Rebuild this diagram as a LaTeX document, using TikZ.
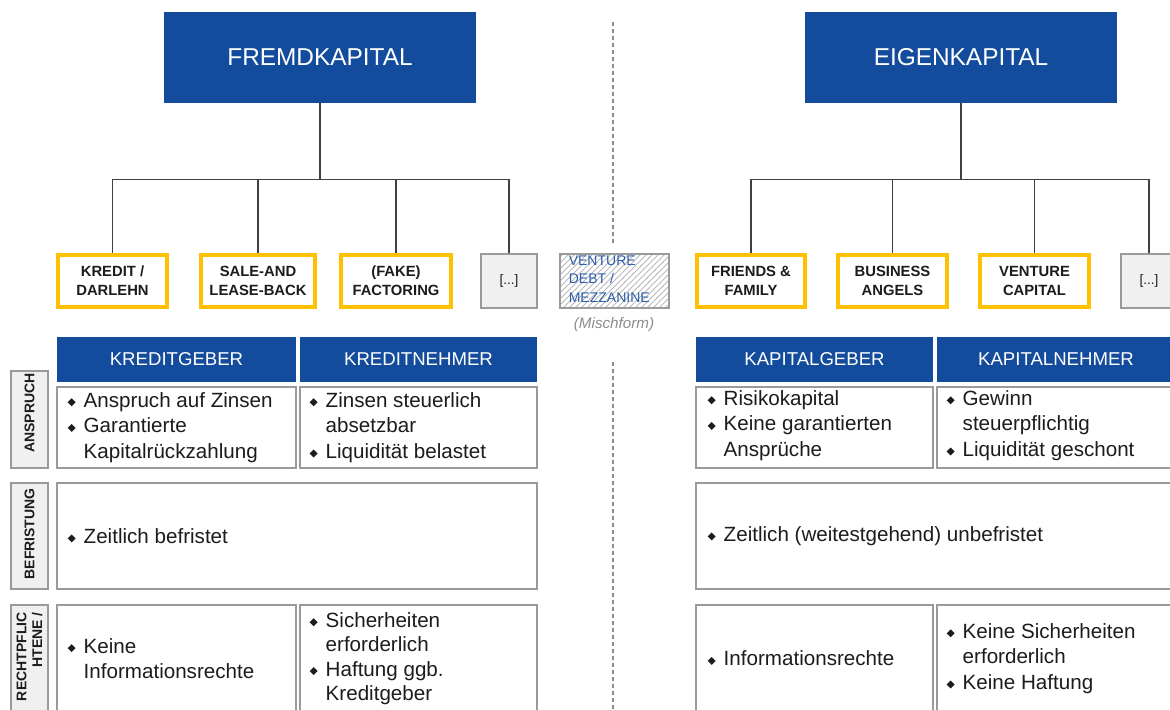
\documentclass[tikz,border=0pt]{standalone}
\usepackage{fontspec}
\setmainfont{Liberation Sans}
\usetikzlibrary{positioning,patterns}
\definecolor{navy}{HTML}{134C9C}
\definecolor{amber}{HTML}{FFC000}
\definecolor{frame}{HTML}{9A9A9A}
\definecolor{paleg}{HTML}{F0F0F0}
\definecolor{ink}{HTML}{1C1C1C}
\definecolor{hatchblue}{HTML}{2E5EAA}
\definecolor{mute}{HTML}{8C8C8C}
\definecolor{treeline}{HTML}{404040}
\newcommand{\bul}{\makebox[8pt][l]{\raisebox{0.5pt}{\rotatebox{45}{\rule{2.8pt}{2.8pt}}}}}
\newcommand{\bulgap}{\hspace*{8pt}}

\begin{document}
\begin{tikzpicture}[x=0.5pt, y=-0.5pt,
  capbox/.style={fill=navy, text=white, font=\fontsize{12.2}{14}\selectfont, minimum width=156pt, minimum height=45.5pt, inner sep=0pt},
  kind/.style={draw=amber, line width=2pt, fill=white, text=ink, font=\fontsize{7.4}{9.5}\selectfont\bfseries, align=center, minimum width=54.5pt, minimum height=26pt, inner sep=0pt},
  more/.style={draw=frame, fill=paleg, line width=0.6pt, minimum width=28pt, minimum height=27pt, font=\fontsize{6.8}{8}\selectfont, text=ink, inner sep=0pt},
  mixbox/.style={draw=frame, line width=0.6pt, pattern=north east lines, pattern color=gray!55, minimum width=54.5pt, minimum height=27pt, inner sep=0pt},
  mixtxt/.style={anchor=west, align=left, inner sep=0pt, text=hatchblue, font=\fontsize{7}{9.2}\selectfont},
  colhead/.style={fill=navy, text=white, font=\fontsize{9.3}{11}\selectfont, minimum height=22.5pt, inner sep=0pt},
  cell/.style={draw=frame, line width=0.7pt, fill=white, inner sep=0pt},
  celltxt/.style={anchor=west, align=left, inner sep=0pt, text=ink, font=\fontsize{10.3}{12.8}\selectfont},
  sidebox/.style={draw=frame, fill=paleg, line width=0.7pt, minimum width=18.5pt, inner sep=0pt},
  sidetxt/.style={rotate=90, anchor=east, align=right, inner sep=0pt, text=ink, font=\fontsize{7}{7.8}\selectfont\bfseries},
  tree/.style={draw=treeline, line width=0.75pt},
  divider/.style={draw=mute, line width=0.6pt, dash pattern=on 2pt off 1.5pt}]
\useasboundingbox (0,0) rectangle (1170,709);

% Divider between the two sides
\draw[divider] (613,22) -- (613,245);
\draw[divider] (613,362) -- (613,712);

% Capital types
\node[capbox] (fk) at (320,57.5) {FREMDKAPITAL};
\node[capbox] (ek) at (961,57.5) {EIGENKAPITAL};

% Instruments (debt side)
\node[kind] (kredit) at (112.5,281) {KREDIT /\\DARLEHN};
\node[kind, minimum width=57pt] (sale) at (258,281) {SALE-AND\\LEASE-BACK};
\node[kind, minimum width=55pt] (fake) at (396,281) {(FAKE)\\FACTORING};
\node[more] (fkmore) at (509,281) {[...]};

% Hybrid
\node[mixbox] (vdebt) at (614.5,281) {};
\node[mixtxt] (vdebttxt) at ([xshift=4.5pt,yshift=1pt]vdebt.west) {VENTURE\\DEBT /\\MEZZANINE};
\node[text=mute, font=\fontsize{7.6}{9}\selectfont\itshape, inner sep=0pt] (mischform) at (614,325) {(Mischform)};

% Instruments (equity side)
\node[kind, minimum width=54pt] (friends) at (751,281) {FRIENDS \&\\FAMILY};
\node[kind] (angels) at (892.5,281) {BUSINESS\\ANGELS};
\node[kind] (vc) at (1034.5,281) {VENTURE\\CAPITAL};
\node[more] (ekmore) at (1149,281) {[...]};

% Tree lines
\foreach \c in {kredit,sale,fake,fkmore}
  \draw[tree] (fk.south) -- ++(0,76) -| (\c.north);
\foreach \c in {friends,angels,vc,ekmore}
  \draw[tree] (ek.south) -- ++(0,76) -| (\c.north);

% Column heads
\node[colhead, minimum width=119.5pt] (kgHead) at (176.5,359.5) {KREDITGEBER};
\node[colhead, minimum width=118.5pt] (knHead) at (418.5,359.5) {KREDITNEHMER};
\node[colhead, minimum width=118.5pt] (kapgHead) at (814.5,359.5) {KAPITALGEBER};
\node[colhead, minimum width=119pt] (kapnHead) at (1056,359.5) {KAPITALNEHMER};

% Row labels
\node[sidebox, minimum height=48.5pt] (sAnsp) at (29.5,419.5) {};
\node[sidetxt] (tAnsp) at (29.5,373) {ANSPRUCH};
\node[sidebox, minimum height=53pt] (sBef) at (29.5,536) {};
\node[sidetxt] (tBef) at (29.5,488) {BEFRISTUNG};
\node[sidebox, minimum height=53.5pt] (sRecht) at (29.5,658.5) {};
\node[sidetxt] (tRecht) at (29.5,612) {RECHTPFLIC\\HTENE /};

% Row: Anspruch
\node[cell, minimum width=119.5pt, minimum height=40.5pt] (kgA) at (176.5,427.5) {};
\node[cell, minimum width=118.5pt, minimum height=40.5pt] (knA) at (418.5,427.5) {};
\node[cell, minimum width=118.5pt, minimum height=40.5pt] (kapgA) at (814.5,427.5) {};
\node[cell, minimum width=119pt, minimum height=40.5pt] (kapnA) at (1056,427.5) {};
\node[celltxt] (kgAtxt) at ([xshift=5.5pt]kgA.west) {\bul Anspruch auf Zinsen\\ \bul Garantierte\\ \bulgap Kapitalrückzahlung};
\node[celltxt] (knAtxt) at ([xshift=5pt]knA.west) {\bul Zinsen steuerlich\\ \bulgap absetzbar\\ \bul Liquidität belastet};
\node[celltxt] (kapgAtxt) at ([xshift=6pt,yshift=1pt]kapgA.west) {\bul Risikokapital\\ \bul Keine garantierten\\ \bulgap Ansprüche};
\node[celltxt] (kapnAtxt) at ([xshift=5pt,yshift=1pt]kapnA.west) {\bul Gewinn\\ \bulgap steuerpflichtig\\ \bul Liquidität geschont};

% Row: Befristung
\node[cell, minimum width=240pt, minimum height=53pt] (befL) at (297,536) {};
\node[cell, minimum width=239.5pt, minimum height=53pt] (befR) at (935.5,536) {};
\node[celltxt] (befLtxt) at ([xshift=5.5pt]befL.west) {\bul Zeitlich befristet};
\node[celltxt] (befRtxt) at ([xshift=6pt]befR.west) {\bul Zeitlich (weitestgehend) unbefristet};

% Row: Rechte / Pflichten
\node[cell, minimum width=119.5pt, minimum height=53.5pt] (kgC) at (176.5,658.5) {};
\node[cell, minimum width=118.5pt, minimum height=53.5pt] (knC) at (418.5,658.5) {};
\node[cell, minimum width=118.5pt, minimum height=53.5pt] (kapgC) at (814.5,658.5) {};
\node[cell, minimum width=119pt, minimum height=53.5pt] (kapnC) at (1056,658.5) {};
\node[celltxt] (kgCtxt) at ([xshift=5.5pt]kgC.west) {\bul Keine\\ \bulgap Informationsrechte};
\node[celltxt, font=\fontsize{10.3}{12.2}\selectfont] (knCtxt) at ([xshift=5pt]knC.west) {\bul Sicherheiten\\ \bulgap erforderlich\\ \bul Haftung ggb.\\ \bulgap Kreditgeber};
\node[celltxt] (kapgCtxt) at ([xshift=6pt]kapgC.west) {\bul Informationsrechte};
\node[celltxt] (kapnCtxt) at ([xshift=5pt]kapnC.west) {\bul Keine Sicherheiten\\ \bulgap erforderlich\\ \bul Keine Haftung};

\end{tikzpicture}
\end{document}
